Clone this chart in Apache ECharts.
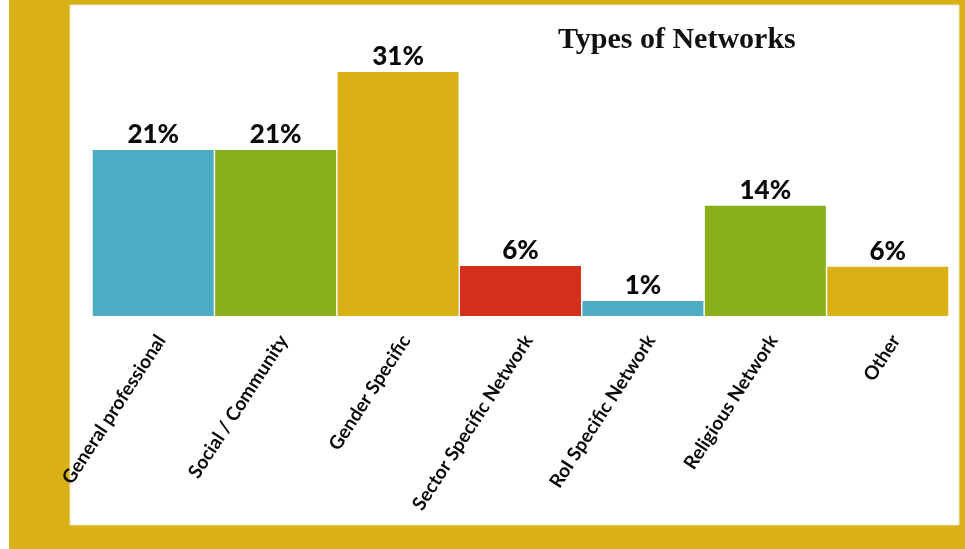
<!DOCTYPE html>
<html>
<head>
<meta charset="utf-8">
<script src="https://cdn.jsdelivr.net/npm/echarts@6/dist/echarts.min.js"></script>
<style>
html,body{margin:0;padding:0;background:#ffffff;}
#chart{width:965px;height:549px;}
</style>
</head>
<body>
<div id="chart"></div>
<script>
var categories = ["General professional", "Social / Community", "Gender Specific", "Sector Specific Network", "RoI Specific Network", "Religious Network", "Other"];
var values = [21.1, 21.1, 31, 6.35, 1.9, 14, 6.25];
var valueLabels = ["21%", "21%", "31%", "6%", "1%", "14%", "6%"];
var barColors = ["#4DACC3", "#8AB01C", "#D9B016", "#D32F1D", "#4DACC3", "#8AB01C", "#D9B016"];
var titleText = "Types of Networks";

var chart = echarts.init(document.getElementById('chart'), null, {renderer: 'canvas'});
var option = {
  backgroundColor: '#ffffff',
  animation: false,
  title: {
    text: titleText,
    left: 553,
    top: 20,
    textStyle: {fontFamily: 'Liberation Serif', fontWeight: 'bold', fontSize: 30, color: '#111111'}
  },
  graphic: [
    {type: 'rect', z: -20, shape: {x: 9, y: 0, width: 956, height: 549}, style: {fill: '#D9B016'}},
    {type: 'rect', z: -19, shape: {x: 70, y: 5, width: 889, height: 520}, style: {fill: '#ffffff', stroke: '#EFE6C6', lineWidth: 1}}
  ],
  grid: [
    {left: 92, right: 16, top: 72, bottom: 233, containLabel: false},
    {left: 100, right: 8, top: 72, bottom: 233, containLabel: false}
  ],
  xAxis: [{
    type: 'category',
    gridIndex: 0,
    data: categories,
    axisLine: {show: false},
    axisTick: {show: false},
    axisLabel: {show: false}
  }, {
    type: 'category',
    gridIndex: 1,
    data: categories,
    axisLine: {show: false},
    axisTick: {show: false},
    axisLabel: {
      interval: 0,
      rotate: 57,
      margin: 21,
      fontFamily: 'Lato',
      fontWeight: 'bold',
      fontSize: 19,
      color: '#0a0a0a'
    }
  }],
  yAxis: [
    {type: 'value', gridIndex: 0, min: 0, max: 31, show: false, splitLine: {show: false}},
    {type: 'value', gridIndex: 1, min: 0, max: 31, show: false, splitLine: {show: false}}
  ],
  series: [{
    type: 'bar',
    xAxisIndex: 0,
    yAxisIndex: 0,
    data: values.map(function (v, i) {
      return {value: v, itemStyle: {color: barColors[i]}};
    }),
    barCategoryGap: '1.2%',
    label: {
      show: true,
      position: 'top',
      distance: 2,
      fontFamily: 'Lato',
      fontWeight: 900,
      fontSize: 26,
      color: '#0a0a0a',
      formatter: function (p) { return valueLabels[p.dataIndex]; }
    }
  }]
};
chart.setOption(option);
</script>
</body>
</html>
